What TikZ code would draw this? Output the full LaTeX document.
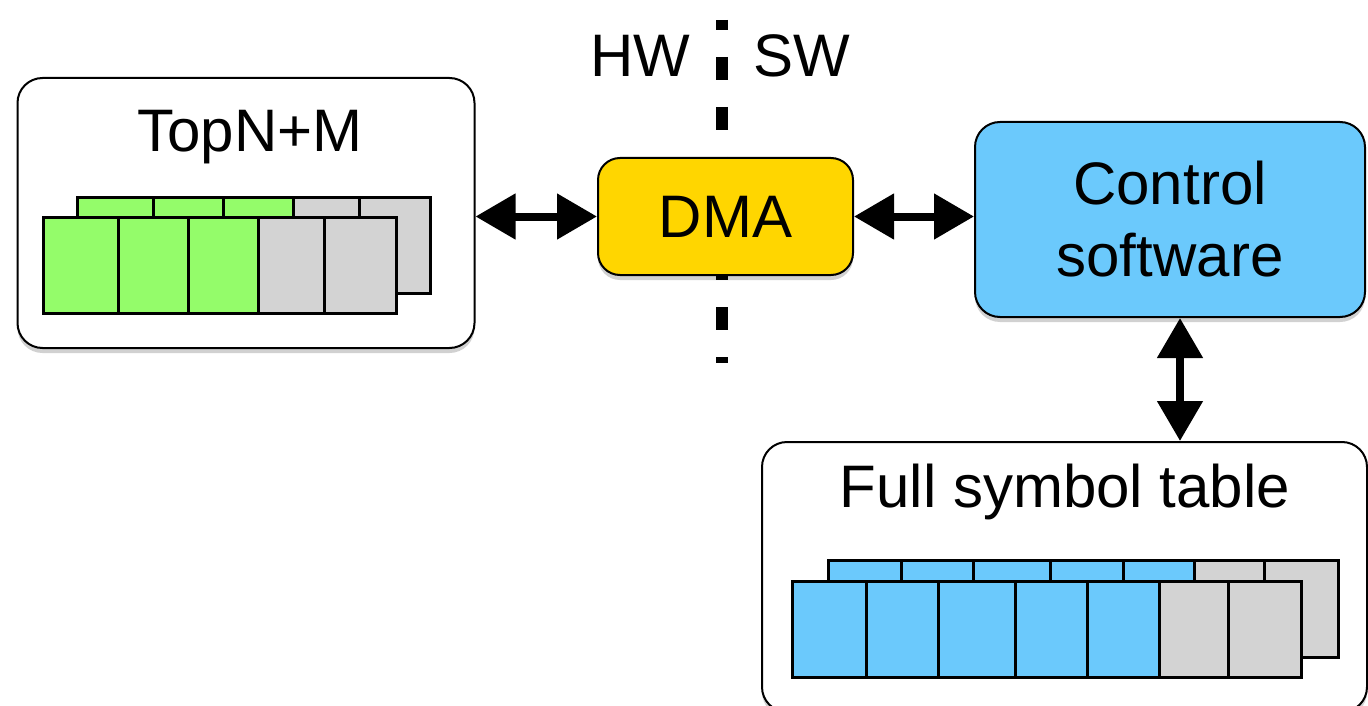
\documentclass[tikz,border=0pt]{standalone}
\usepackage{fontspec}
\setmainfont{Liberation Sans}
\usetikzlibrary{arrows.meta,shadows,calc}
\definecolor{cellgreen}{RGB}{148,252,106}
\definecolor{cellblue}{RGB}{107,201,252}
\definecolor{cellgray}{RGB}{211,211,211}
\definecolor{dmagold}{RGB}{255,214,0}
\begin{document}
\begin{tikzpicture}[x=1pt,y=-1pt,
  softshadow/.style={drop shadow={shadow xshift=0pt,shadow yshift=-5pt,opacity=0.18,fill=black}},
  box/.style={draw=black,line width=2pt,rounded corners=25pt,inner sep=0pt,softshadow,
    font=\fontsize{60}{72}\selectfont,align=center},
  title/.style={font=\fontsize{60}{72}\selectfont,anchor=base,inner sep=0pt},
  biarrow/.style={line width=8pt,{Triangle[length=40pt,width=44pt]}-{Triangle[length=40pt,width=44pt]}},
  cellg/.style={draw=black,line width=3pt,fill=cellgreen},
  cellb/.style={draw=black,line width=3pt,fill=cellblue},
  cellx/.style={draw=black,line width=3pt,fill=cellgray},
  divider/.style={line width=12pt,dash pattern=on 23pt off 27pt,dash phase=13pt}
]
\useasboundingbox (0,0) rectangle (1368,706);

% HW / SW divider
\coordinate (divtop) at (722,20);
\coordinate (divbot) at (722,363);
\draw[divider] (divtop) -- (divbot);
\node[title] (hw) at (640,77) {HW};
\node[title] (sw) at (802,77) {SW};

% TopN+M box
\node[box,fill=white,minimum width=457pt,minimum height=270pt] (topn) at (246,213) {};
\node[title] (topntitle) at (250,152) {TopN+M};
\foreach \a/\b/\c in {77/153/cellg,153/223/cellg,223/293/cellg,293/359/cellx,359/430/cellx}
  \draw[\c] (\a,197) rectangle (\b,293);
\foreach \a/\b/\c in {43/118/cellg,118/188/cellg,188/258/cellg,258/324/cellx,324/396/cellx}
  \draw[\c] (\a,217) rectangle (\b,313);

% DMA
\node[box,fill=dmagold,rounded corners=22pt,minimum width=255pt,minimum height=117pt] (dma) at (725.5,216.5) {DMA};

% Control software
\node[box,fill=cellblue,minimum width=390pt,minimum height=195pt] (ctrl) at (1170,219.5) {Control\\software};

% Full symbol table
\node[box,fill=white,minimum width=605pt,minimum height=270pt] (tbl) at (1064.5,577) {};
\node[title] (tbltitle) at (1065,507) {Full symbol table};
\foreach \a/\b/\c in {828/901/cellb,901/973/cellb,973/1050/cellb,1050/1123/cellb,1123/1194/cellb,1194/1264/cellx,1264/1338/cellx}
  \draw[\c] (\a,560) rectangle (\b,657);
\foreach \a/\b/\c in {792/866/cellb,866/938/cellb,938/1015/cellb,1015/1087/cellb,1087/1159/cellb,1159/1228/cellx,1228/1301/cellx}
  \draw[\c] (\a,581) rectangle (\b,677);

% connectors
\coordinate (vx) at (1180,0);
\draw[biarrow] (topn.east |- dma.west) -- (dma.west);
\draw[biarrow] (dma.east) -- (ctrl.west |- dma.east);
\draw[biarrow] (ctrl.south -| vx) -- (tbl.north -| vx);
\end{tikzpicture}
\end{document}
